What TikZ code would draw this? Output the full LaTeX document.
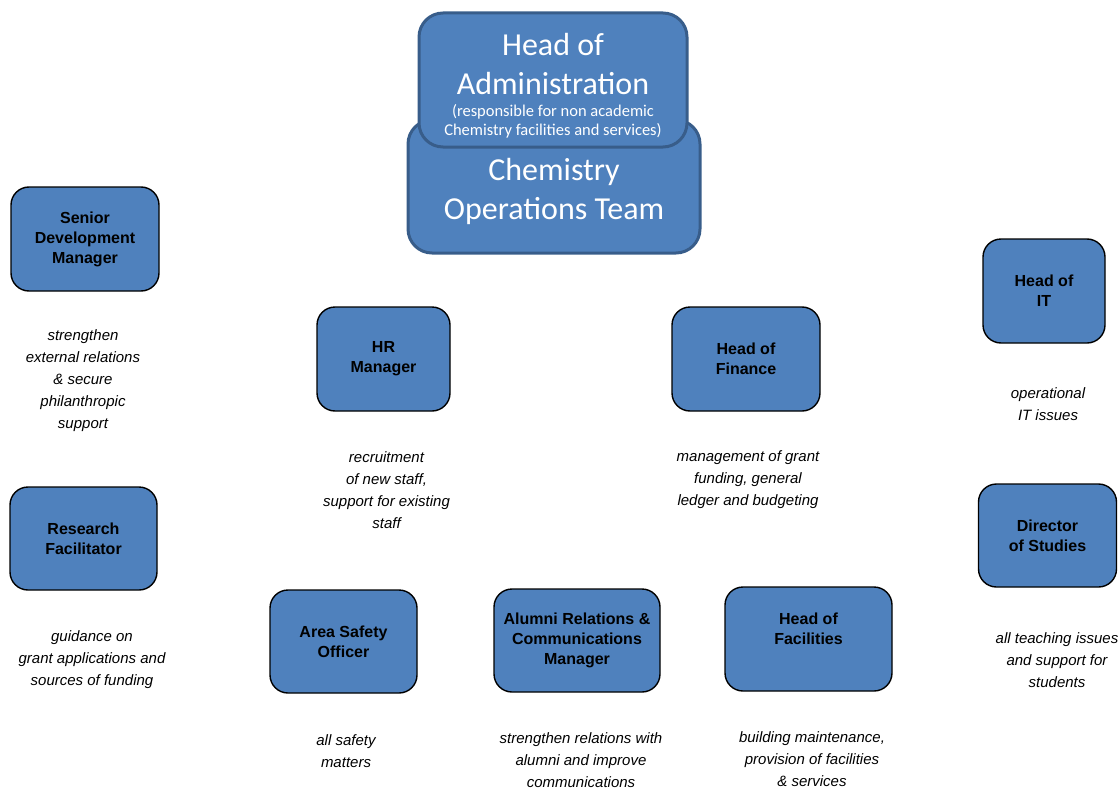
\documentclass[tikz,border=0pt]{standalone}
\usepackage{fontspec}
\setmainfont{Liberation Sans}
\newfontfamily\calibrifont{Carlito}
\usepackage{tikz}
\usetikzlibrary{positioning}
\definecolor{boxblue}{HTML}{4F81BD}
\definecolor{boxedge}{HTML}{385D8A}

\begin{document}
\begin{tikzpicture}[x=1pt, y=-1pt,
    rolebox/.style={draw=black, line width=1.4pt, fill=boxblue, rounded corners=18pt, inner sep=0pt, align=center, font=\bfseries\fontsize{16}{20}\selectfont},
    teambox/.style={draw=boxedge, line width=3pt, fill=boxblue, rounded corners=24pt, inner sep=0pt, align=center, text=white, font=\calibrifont\fontsize{32}{39}\selectfont},
    dutylbl/.style={draw=none, align=center, font=\itshape\fontsize{15}{22}\selectfont},
]
\useasboundingbox (0,0) rectangle (1118,789);

% top of the structure
\node[teambox, minimum width=292pt, minimum height=133pt] (team) at (554, 186.5) {\rule{0pt}{32pt}Chemistry\\Operations Team};
\node[teambox, minimum width=268pt, minimum height=134pt] (hoa) at (553, 80)
   {\rule{0pt}{34pt}Head of\\Administration\\[-17pt]{\fontsize{16.5}{19}\selectfont (responsible for non academic}\\[-20pt]{\fontsize{16.5}{19}\selectfont Chemistry facilities and services)}};

% roles
\node[rolebox, minimum width=148pt, minimum height=104pt] (sdm) at (85, 239)    {Senior\\Development\\Manager};
\node[rolebox, minimum width=133pt, minimum height=104pt] (hr)  at (383.5, 359) {HR\\Manager};
\node[rolebox, minimum width=148pt, minimum height=104pt] (hof) at (746, 359)   {Head of\\Finance};
\node[rolebox, minimum width=122pt, minimum height=104pt] (hit) at (1044, 291)  {Head of\\IT};
\node[rolebox, minimum width=147pt, minimum height=103pt] (rf)  at (83.5, 538.5) {Research\\Facilitator};
\node[rolebox, minimum width=138pt, minimum height=103pt] (dos) at (1047.5, 535.5) {Director\\of Studies};
\node[rolebox, minimum width=147pt, minimum height=103pt] (aso) at (343.5, 641.5) {Area Safety\\Officer};
\node[rolebox, minimum width=166pt, minimum height=103pt] (arc) at (577, 640.5) {Alumni Relations \&\\Communications\\Manager};
\node[rolebox, minimum width=167pt, minimum height=104pt] (hfa) at (808.5, 639) {Head of\\Facilities\\\mbox{}};

% duties
\node[dutylbl] (sdmduty) at (83, 381)     {strengthen\\external relations\\\& secure\\philanthropic\\support};
\node[dutylbl] (hrduty)  at (386.5, 490)  {recruitment\\of new staff,\\support for existing\\staff};
\node[dutylbl] (hofduty) at (748, 479.5)  {management of grant\\funding, general\\ledger and budgeting};
\node[dutylbl] (hitduty) at (1048, 404)   {operational\\IT issues};
\node[dutylbl] (rfduty)  at (92, 659.5)   {guidance on\\grant applications and\\sources of funding};
\node[dutylbl] (dosduty) at (1057, 660)   {all teaching issues\\and support for\\students};
\node[dutylbl] (asoduty) at (346, 751)    {all safety\\matters};
\node[dutylbl] (arcduty) at (581, 760)    {strengthen relations with\\alumni and improve\\communications};
\node[dutylbl] (hfaduty) at (812, 759.5)  {building maintenance,\\provision of facilities\\\& services};
\end{tikzpicture}
\end{document}
